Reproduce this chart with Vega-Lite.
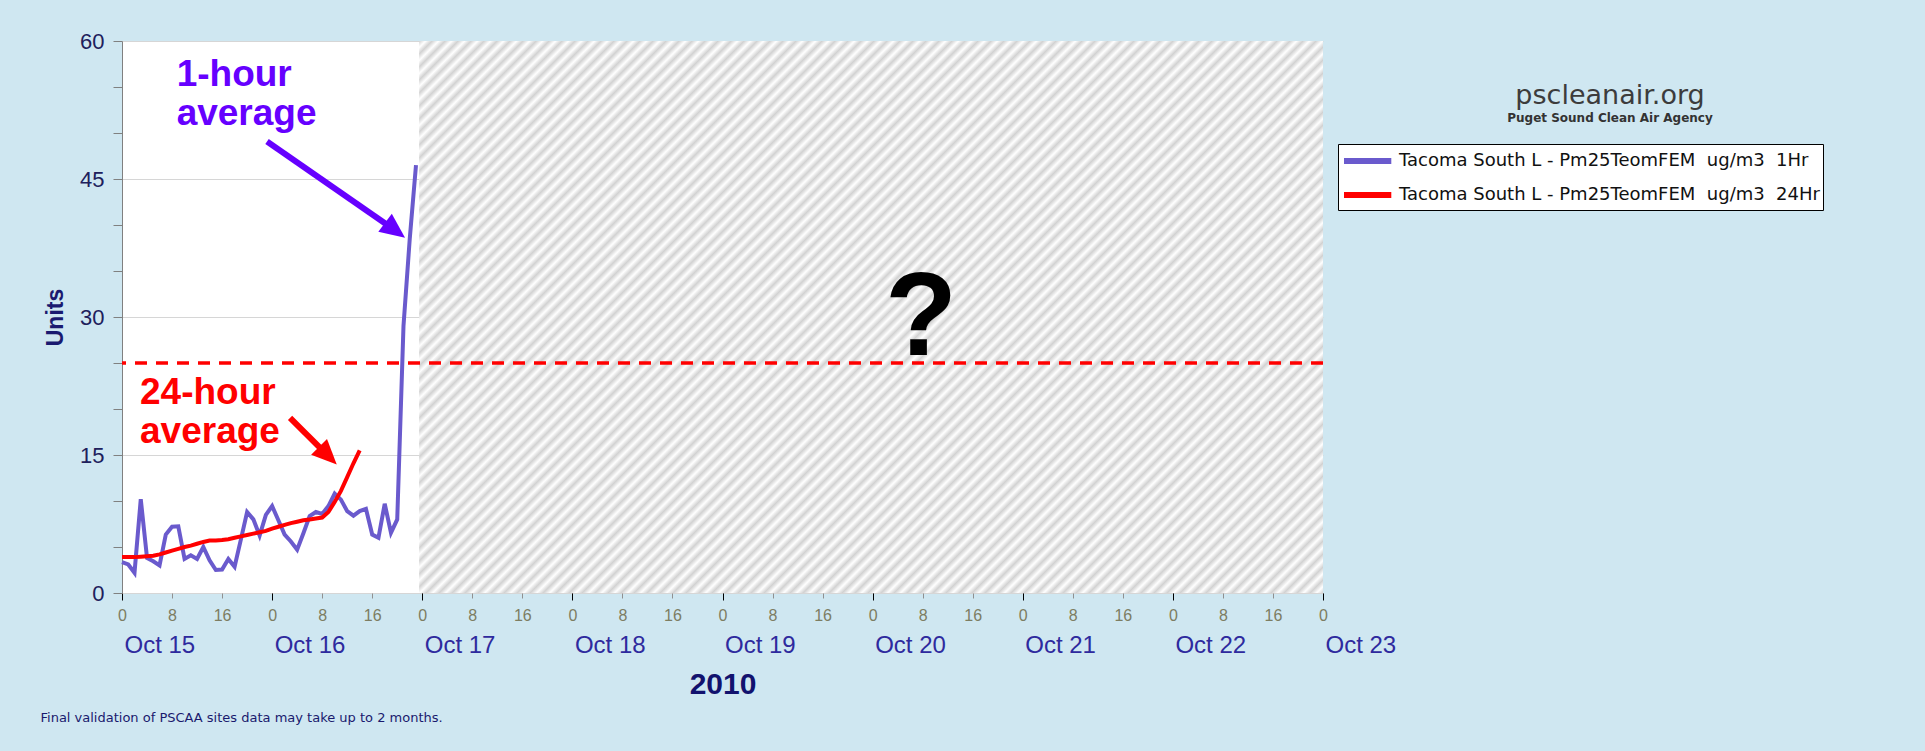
{
"$schema": "https://vega.github.io/schema/vega-lite/v6.json",
"width": 1201, "height": 552,
"autosize": {"type": "none"},
"padding": {"left": 122, "top": 41, "right": 602, "bottom": 158},
"background": "#cfe7f1",
"config": {"view": {"fill": "#ffffff", "stroke": null}},
"title": {"text": "pscleanair.org", "subtitle": "Puget Sound Clean Air Agency", "orient": "top", "anchor": "end", "frame": "group", "align": "center", "dx": 287, "dy": 95, "offset": 0, "font": "DejaVu Sans", "fontSize": 27, "fontWeight": "normal", "color": "#3c3c3c", "subtitleFont": "DejaVu Sans", "subtitleFontSize": 12, "subtitleFontWeight": "bold", "subtitleColor": "#333333", "subtitlePadding": 3},
"datasets": {
"hourly1": [
{"t":"2010-10-15T00:00","val":3.35},{"t":"2010-10-15T01:00","val":3.1},{"t":"2010-10-15T02:00","val":2.2},{"t":"2010-10-15T03:00","val":10.2},{"t":"2010-10-15T04:00","val":3.8},{"t":"2010-10-15T05:00","val":3.45},{"t":"2010-10-15T06:00","val":3.0},{"t":"2010-10-15T07:00","val":6.35},{"t":"2010-10-15T08:00","val":7.2},{"t":"2010-10-15T09:00","val":7.25},{"t":"2010-10-15T10:00","val":3.7},{"t":"2010-10-15T11:00","val":4.1},{"t":"2010-10-15T12:00","val":3.7},{"t":"2010-10-15T13:00","val":5.0},{"t":"2010-10-15T14:00","val":3.55},{"t":"2010-10-15T15:00","val":2.5},{"t":"2010-10-15T16:00","val":2.55},{"t":"2010-10-15T17:00","val":3.7},{"t":"2010-10-15T18:00","val":2.85},{"t":"2010-10-15T19:00","val":5.8},{"t":"2010-10-15T20:00","val":8.8},{"t":"2010-10-15T21:00","val":8.0},{"t":"2010-10-15T22:00","val":6.25},{"t":"2010-10-15T23:00","val":8.5},
{"t":"2010-10-16T00:00","val":9.45},{"t":"2010-10-16T01:00","val":7.9},{"t":"2010-10-16T02:00","val":6.35},{"t":"2010-10-16T03:00","val":5.6},{"t":"2010-10-16T04:00","val":4.7},{"t":"2010-10-16T05:00","val":6.5},{"t":"2010-10-16T06:00","val":8.35},{"t":"2010-10-16T07:00","val":8.8},{"t":"2010-10-16T08:00","val":8.6},{"t":"2010-10-16T09:00","val":9.45},{"t":"2010-10-16T10:00","val":10.8},{"t":"2010-10-16T11:00","val":10.15},{"t":"2010-10-16T12:00","val":8.9},{"t":"2010-10-16T13:00","val":8.4},{"t":"2010-10-16T14:00","val":8.9},{"t":"2010-10-16T15:00","val":9.15},{"t":"2010-10-16T16:00","val":6.35},{"t":"2010-10-16T17:00","val":6.0},{"t":"2010-10-16T18:00","val":9.7},{"t":"2010-10-16T19:00","val":6.55},{"t":"2010-10-16T20:00","val":8.0},{"t":"2010-10-16T21:00","val":29.0},{"t":"2010-10-16T22:00","val":38.5},{"t":"2010-10-16T23:00","val":46.5}
],
"hourly24": [
{"t":"2010-10-15T00:00","val":3.9},{"t":"2010-10-15T01:00","val":3.9},{"t":"2010-10-15T02:00","val":3.9},{"t":"2010-10-15T03:00","val":3.95},{"t":"2010-10-15T04:00","val":4.0},{"t":"2010-10-15T05:00","val":4.05},{"t":"2010-10-15T06:00","val":4.2},{"t":"2010-10-15T07:00","val":4.4},{"t":"2010-10-15T08:00","val":4.6},{"t":"2010-10-15T09:00","val":4.8},{"t":"2010-10-15T10:00","val":5.0},{"t":"2010-10-15T11:00","val":5.15},{"t":"2010-10-15T12:00","val":5.35},{"t":"2010-10-15T13:00","val":5.55},{"t":"2010-10-15T14:00","val":5.7},{"t":"2010-10-15T15:00","val":5.7},{"t":"2010-10-15T16:00","val":5.75},{"t":"2010-10-15T17:00","val":5.85},{"t":"2010-10-15T18:00","val":6.0},{"t":"2010-10-15T19:00","val":6.15},{"t":"2010-10-15T20:00","val":6.3},{"t":"2010-10-15T21:00","val":6.45},{"t":"2010-10-15T22:00","val":6.6},{"t":"2010-10-15T23:00","val":6.75},
{"t":"2010-10-16T00:00","val":7.0},{"t":"2010-10-16T01:00","val":7.2},{"t":"2010-10-16T02:00","val":7.4},{"t":"2010-10-16T03:00","val":7.6},{"t":"2010-10-16T04:00","val":7.75},{"t":"2010-10-16T05:00","val":7.9},{"t":"2010-10-16T06:00","val":8.0},{"t":"2010-10-16T07:00","val":8.1},{"t":"2010-10-16T08:00","val":8.2},{"t":"2010-10-16T09:00","val":8.8},{"t":"2010-10-16T10:00","val":9.9},{"t":"2010-10-16T11:00","val":11.1},{"t":"2010-10-16T12:00","val":12.6},{"t":"2010-10-16T13:00","val":14.1},{"t":"2010-10-16T14:00","val":15.5}
],
"nodata": [{"start":"2010-10-16T23:30","end":"2010-10-23T00:00"}],
"limit": [{"level": 25}]
},
"layer": [
{"data": {"name": "hourly1"},
 "mark": {"type": "line", "strokeWidth": 4},
 "encoding": {
  "x": {"field": "t", "type": "temporal",
        "scale": {"domain": [{"year": 2010, "month": 10, "date": 15}, {"year": 2010, "month": 10, "date": 23}]},
        "axis": {"orient": "bottom", "format": "%-H", "domain": false, "grid": false,
                 "values": [{"year":2010,"month":10,"date":15,"hours":0},{"year":2010,"month":10,"date":15,"hours":8},{"year":2010,"month":10,"date":15,"hours":16},
                            {"year":2010,"month":10,"date":16,"hours":0},{"year":2010,"month":10,"date":16,"hours":8},{"year":2010,"month":10,"date":16,"hours":16},
                            {"year":2010,"month":10,"date":17,"hours":0},{"year":2010,"month":10,"date":17,"hours":8},{"year":2010,"month":10,"date":17,"hours":16},
                            {"year":2010,"month":10,"date":18,"hours":0},{"year":2010,"month":10,"date":18,"hours":8},{"year":2010,"month":10,"date":18,"hours":16},
                            {"year":2010,"month":10,"date":19,"hours":0},{"year":2010,"month":10,"date":19,"hours":8},{"year":2010,"month":10,"date":19,"hours":16},
                            {"year":2010,"month":10,"date":20,"hours":0},{"year":2010,"month":10,"date":20,"hours":8},{"year":2010,"month":10,"date":20,"hours":16},
                            {"year":2010,"month":10,"date":21,"hours":0},{"year":2010,"month":10,"date":21,"hours":8},{"year":2010,"month":10,"date":21,"hours":16},
                            {"year":2010,"month":10,"date":22,"hours":0},{"year":2010,"month":10,"date":22,"hours":8},{"year":2010,"month":10,"date":22,"hours":16},
                            {"year":2010,"month":10,"date":23,"hours":0}],
                 "tickColor": "#909090", "tickSize": 5, "labelFont": "Liberation Sans", "labelFontSize": 16, "labelColor": "#7d7d62",
                 "labelPadding": 9, "labelFlush": false, "labelOverlap": false, "labelBound": false,
                 "title": "Final validation of PSCAA sites data may take up to 2 months.", "titleFont": "DejaVu Sans", "titleFontSize": 13,
                 "titleFontWeight": "normal", "titleColor": "#1a1a6e", "titleAlign": "left", "titleAnchor": "start", "titleX": -82, "titleY": 124, "titleBaseline": "middle"}},
  "y": {"field": "val", "type": "quantitative", "scale": {"domain": [0, 60], "nice": false},
        "axis": {"values": [0,5,10,15,20,25,30,35,40,45,50,55,60], "labelExpr": "datum.value % 15 === 0 ? datum.label : ''",
                 "grid": true, "gridColor": "#d6d6d6",
                 "gridOpacity": {"condition": {"test": "datum.value % 15 === 0", "value": 1}, "value": 0},
                 "tickSize": 9, "tickColor": "#808080", "domainColor": "#808080",
                 "labelFont": "Liberation Sans", "labelFontSize": 22, "labelColor": "#20205c", "labelPadding": 9,
                 "title": "Units", "titleFont": "Liberation Sans", "titleFontSize": 23, "titleFontWeight": "bold", "titleColor": "#1a1a70", "titlePadding": 12}},
  "color": {"datum": "Tacoma South L - Pm25TeomFEM\u00a0 ug/m3\u00a0 1Hr", "type": "nominal",
            "scale": {"domain": ["Tacoma South L - Pm25TeomFEM\u00a0 ug/m3\u00a0 1Hr", "Tacoma South L - Pm25TeomFEM\u00a0 ug/m3\u00a0 24Hr"], "range": ["#6A5ACD", "#FF0000"]},
            "legend": {"orient": "none", "legendX": 1216, "legendY": 103, "title": null, "strokeColor": "#000000", "fillColor": "#ffffff", "padding": 3,
                       "symbolType": "M-1,0H3.3", "symbolSize": 484, "symbolStrokeWidth": 6, "labelFont": "DejaVu Sans", "labelFontSize": 18,
                       "labelColor": "#111111", "labelOffset": 30, "rowPadding": 8, "labelLimit": 700}}
 }},
{"data": {"name": "hourly24"},
 "mark": {"type": "line", "strokeWidth": 4},
 "encoding": {
  "x": {"field": "t", "type": "temporal", "axis": null},
  "y": {"field": "val", "type": "quantitative"},
  "color": {"datum": "Tacoma South L - Pm25TeomFEM\u00a0 ug/m3\u00a0 24Hr", "type": "nominal"}
 }},
{"data": {"name": "nodata"},
 "mark": {"type": "rect", "fill": {"gradient": "linear", "x1": 0, "y1": 0, "x2": 1.1732, "y2": 0.7164, "stops": [
{"offset":0,"color":"#d2d2d2"},{"offset":0.0045,"color":"#fff"},{"offset":0.0089,"color":"#d2d2d2"},{"offset":0.0134,"color":"#fff"},{"offset":0.0179,"color":"#d2d2d2"},{"offset":0.0223,"color":"#fff"},{"offset":0.0268,"color":"#d2d2d2"},{"offset":0.0313,"color":"#fff"},{"offset":0.0357,"color":"#d2d2d2"},{"offset":0.0402,"color":"#fff"},{"offset":0.0446,"color":"#d2d2d2"},{"offset":0.0491,"color":"#fff"},{"offset":0.0536,"color":"#d2d2d2"},{"offset":0.058,"color":"#fff"},{"offset":0.0625,"color":"#d2d2d2"},{"offset":0.067,"color":"#fff"},{"offset":0.0714,"color":"#d2d2d2"},{"offset":0.0759,"color":"#fff"},{"offset":0.0804,"color":"#d2d2d2"},{"offset":0.0848,"color":"#fff"},
{"offset":0.0893,"color":"#d2d2d2"},{"offset":0.0938,"color":"#fff"},{"offset":0.0982,"color":"#d2d2d2"},{"offset":0.1027,"color":"#fff"},{"offset":0.1071,"color":"#d2d2d2"},{"offset":0.1116,"color":"#fff"},{"offset":0.1161,"color":"#d2d2d2"},{"offset":0.1205,"color":"#fff"},{"offset":0.125,"color":"#d2d2d2"},{"offset":0.1295,"color":"#fff"},{"offset":0.1339,"color":"#d2d2d2"},{"offset":0.1384,"color":"#fff"},{"offset":0.1429,"color":"#d2d2d2"},{"offset":0.1473,"color":"#fff"},{"offset":0.1518,"color":"#d2d2d2"},{"offset":0.1563,"color":"#fff"},{"offset":0.1607,"color":"#d2d2d2"},{"offset":0.1652,"color":"#fff"},{"offset":0.1696,"color":"#d2d2d2"},{"offset":0.1741,"color":"#fff"},
{"offset":0.1786,"color":"#d2d2d2"},{"offset":0.183,"color":"#fff"},{"offset":0.1875,"color":"#d2d2d2"},{"offset":0.192,"color":"#fff"},{"offset":0.1964,"color":"#d2d2d2"},{"offset":0.2009,"color":"#fff"},{"offset":0.2054,"color":"#d2d2d2"},{"offset":0.2098,"color":"#fff"},{"offset":0.2143,"color":"#d2d2d2"},{"offset":0.2188,"color":"#fff"},{"offset":0.2232,"color":"#d2d2d2"},{"offset":0.2277,"color":"#fff"},{"offset":0.2321,"color":"#d2d2d2"},{"offset":0.2366,"color":"#fff"},{"offset":0.2411,"color":"#d2d2d2"},{"offset":0.2455,"color":"#fff"},{"offset":0.25,"color":"#d2d2d2"},{"offset":0.2545,"color":"#fff"},{"offset":0.2589,"color":"#d2d2d2"},{"offset":0.2634,"color":"#fff"},
{"offset":0.2679,"color":"#d2d2d2"},{"offset":0.2723,"color":"#fff"},{"offset":0.2768,"color":"#d2d2d2"},{"offset":0.2813,"color":"#fff"},{"offset":0.2857,"color":"#d2d2d2"},{"offset":0.2902,"color":"#fff"},{"offset":0.2946,"color":"#d2d2d2"},{"offset":0.2991,"color":"#fff"},{"offset":0.3036,"color":"#d2d2d2"},{"offset":0.308,"color":"#fff"},{"offset":0.3125,"color":"#d2d2d2"},{"offset":0.317,"color":"#fff"},{"offset":0.3214,"color":"#d2d2d2"},{"offset":0.3259,"color":"#fff"},{"offset":0.3304,"color":"#d2d2d2"},{"offset":0.3348,"color":"#fff"},{"offset":0.3393,"color":"#d2d2d2"},{"offset":0.3438,"color":"#fff"},{"offset":0.3482,"color":"#d2d2d2"},{"offset":0.3527,"color":"#fff"},
{"offset":0.3571,"color":"#d2d2d2"},{"offset":0.3616,"color":"#fff"},{"offset":0.3661,"color":"#d2d2d2"},{"offset":0.3705,"color":"#fff"},{"offset":0.375,"color":"#d2d2d2"},{"offset":0.3795,"color":"#fff"},{"offset":0.3839,"color":"#d2d2d2"},{"offset":0.3884,"color":"#fff"},{"offset":0.3929,"color":"#d2d2d2"},{"offset":0.3973,"color":"#fff"},{"offset":0.4018,"color":"#d2d2d2"},{"offset":0.4063,"color":"#fff"},{"offset":0.4107,"color":"#d2d2d2"},{"offset":0.4152,"color":"#fff"},{"offset":0.4196,"color":"#d2d2d2"},{"offset":0.4241,"color":"#fff"},{"offset":0.4286,"color":"#d2d2d2"},{"offset":0.433,"color":"#fff"},{"offset":0.4375,"color":"#d2d2d2"},{"offset":0.442,"color":"#fff"},
{"offset":0.4464,"color":"#d2d2d2"},{"offset":0.4509,"color":"#fff"},{"offset":0.4554,"color":"#d2d2d2"},{"offset":0.4598,"color":"#fff"},{"offset":0.4643,"color":"#d2d2d2"},{"offset":0.4688,"color":"#fff"},{"offset":0.4732,"color":"#d2d2d2"},{"offset":0.4777,"color":"#fff"},{"offset":0.4821,"color":"#d2d2d2"},{"offset":0.4866,"color":"#fff"},{"offset":0.4911,"color":"#d2d2d2"},{"offset":0.4955,"color":"#fff"},{"offset":0.5,"color":"#d2d2d2"},{"offset":0.5045,"color":"#fff"},{"offset":0.5089,"color":"#d2d2d2"},{"offset":0.5134,"color":"#fff"},{"offset":0.5179,"color":"#d2d2d2"},{"offset":0.5223,"color":"#fff"},{"offset":0.5268,"color":"#d2d2d2"},{"offset":0.5313,"color":"#fff"},
{"offset":0.5357,"color":"#d2d2d2"},{"offset":0.5402,"color":"#fff"},{"offset":0.5446,"color":"#d2d2d2"},{"offset":0.5491,"color":"#fff"},{"offset":0.5536,"color":"#d2d2d2"},{"offset":0.558,"color":"#fff"},{"offset":0.5625,"color":"#d2d2d2"},{"offset":0.567,"color":"#fff"},{"offset":0.5714,"color":"#d2d2d2"},{"offset":0.5759,"color":"#fff"},{"offset":0.5804,"color":"#d2d2d2"},{"offset":0.5848,"color":"#fff"},{"offset":0.5893,"color":"#d2d2d2"},{"offset":0.5938,"color":"#fff"},{"offset":0.5982,"color":"#d2d2d2"},{"offset":0.6027,"color":"#fff"},{"offset":0.6071,"color":"#d2d2d2"},{"offset":0.6116,"color":"#fff"},{"offset":0.6161,"color":"#d2d2d2"},{"offset":0.6205,"color":"#fff"},
{"offset":0.625,"color":"#d2d2d2"},{"offset":0.6295,"color":"#fff"},{"offset":0.6339,"color":"#d2d2d2"},{"offset":0.6384,"color":"#fff"},{"offset":0.6429,"color":"#d2d2d2"},{"offset":0.6473,"color":"#fff"},{"offset":0.6518,"color":"#d2d2d2"},{"offset":0.6563,"color":"#fff"},{"offset":0.6607,"color":"#d2d2d2"},{"offset":0.6652,"color":"#fff"},{"offset":0.6696,"color":"#d2d2d2"},{"offset":0.6741,"color":"#fff"},{"offset":0.6786,"color":"#d2d2d2"},{"offset":0.683,"color":"#fff"},{"offset":0.6875,"color":"#d2d2d2"},{"offset":0.692,"color":"#fff"},{"offset":0.6964,"color":"#d2d2d2"},{"offset":0.7009,"color":"#fff"},{"offset":0.7054,"color":"#d2d2d2"},{"offset":0.7098,"color":"#fff"},
{"offset":0.7143,"color":"#d2d2d2"},{"offset":0.7188,"color":"#fff"},{"offset":0.7232,"color":"#d2d2d2"},{"offset":0.7277,"color":"#fff"},{"offset":0.7321,"color":"#d2d2d2"},{"offset":0.7366,"color":"#fff"},{"offset":0.7411,"color":"#d2d2d2"},{"offset":0.7455,"color":"#fff"},{"offset":0.75,"color":"#d2d2d2"},{"offset":0.7545,"color":"#fff"},{"offset":0.7589,"color":"#d2d2d2"},{"offset":0.7634,"color":"#fff"},{"offset":0.7679,"color":"#d2d2d2"},{"offset":0.7723,"color":"#fff"},{"offset":0.7768,"color":"#d2d2d2"},{"offset":0.7813,"color":"#fff"},{"offset":0.7857,"color":"#d2d2d2"},{"offset":0.7902,"color":"#fff"},{"offset":0.7946,"color":"#d2d2d2"},{"offset":0.7991,"color":"#fff"},
{"offset":0.8036,"color":"#d2d2d2"},{"offset":0.808,"color":"#fff"},{"offset":0.8125,"color":"#d2d2d2"},{"offset":0.817,"color":"#fff"},{"offset":0.8214,"color":"#d2d2d2"},{"offset":0.8259,"color":"#fff"},{"offset":0.8304,"color":"#d2d2d2"},{"offset":0.8348,"color":"#fff"},{"offset":0.8393,"color":"#d2d2d2"},{"offset":0.8438,"color":"#fff"},{"offset":0.8482,"color":"#d2d2d2"},{"offset":0.8527,"color":"#fff"},{"offset":0.8571,"color":"#d2d2d2"},{"offset":0.8616,"color":"#fff"},{"offset":0.8661,"color":"#d2d2d2"},{"offset":0.8705,"color":"#fff"},{"offset":0.875,"color":"#d2d2d2"},{"offset":0.8795,"color":"#fff"},{"offset":0.8839,"color":"#d2d2d2"},{"offset":0.8884,"color":"#fff"},
{"offset":0.8929,"color":"#d2d2d2"},{"offset":0.8973,"color":"#fff"},{"offset":0.9018,"color":"#d2d2d2"},{"offset":0.9063,"color":"#fff"},{"offset":0.9107,"color":"#d2d2d2"},{"offset":0.9152,"color":"#fff"},{"offset":0.9196,"color":"#d2d2d2"},{"offset":0.9241,"color":"#fff"},{"offset":0.9286,"color":"#d2d2d2"},{"offset":0.933,"color":"#fff"},{"offset":0.9375,"color":"#d2d2d2"},{"offset":0.942,"color":"#fff"},{"offset":0.9464,"color":"#d2d2d2"},{"offset":0.9509,"color":"#fff"},{"offset":0.9554,"color":"#d2d2d2"},{"offset":0.9598,"color":"#fff"},{"offset":0.9643,"color":"#d2d2d2"},{"offset":0.9688,"color":"#fff"},{"offset":0.9732,"color":"#d2d2d2"},{"offset":0.9777,"color":"#fff"},
{"offset":0.9821,"color":"#d2d2d2"},{"offset":0.9866,"color":"#fff"},{"offset":0.9911,"color":"#d2d2d2"},{"offset":0.9955,"color":"#fff"},{"offset":1,"color":"#d2d2d2"}
 ]}},
 "encoding": {
  "x": {"field": "start", "type": "temporal",
        "axis": {"orient": "bottom", "format": "%b %-d", "domain": false, "grid": false,
                 "values": [{"year":2010,"month":10,"date":15},{"year":2010,"month":10,"date":16},{"year":2010,"month":10,"date":17},{"year":2010,"month":10,"date":18},{"year":2010,"month":10,"date":19},{"year":2010,"month":10,"date":20},{"year":2010,"month":10,"date":21},{"year":2010,"month":10,"date":22},{"year":2010,"month":10,"date":23}],
                 "tickColor": "#000000", "tickSize": 7, "labelAlign": "left", "labelBaseline": "top", "labelPadding": 33, "labelOffset": 2,
                 "labelFont": "Liberation Sans", "labelFontSize": 24, "labelColor": "#2e2a9e",
                 "labelFlush": false, "labelOverlap": false, "labelBound": false,
                 "title": "2010", "titleFont": "Liberation Sans", "titleFontSize": 30, "titleFontWeight": "bold", "titleColor": "#12126e", "titlePadding": 12}},
  "x2": {"field": "end"},
  "y": {"datum": 0, "type": "quantitative"},
  "y2": {"datum": 60}
 }},
{"data": {"name": "limit"},
 "mark": {"type": "rule", "color": "#FF0000", "strokeWidth": 3.5, "strokeDash": [12, 9]},
 "encoding": {"y": {"field": "level", "type": "quantitative"}}},
{"data": {"values": [{"t": "2010-10-15T08:44", "v": 55.16, "label": "1-hour\naverage"}]},
 "mark": {"type": "text", "font": "Liberation Sans", "fontSize": 37, "fontWeight": "bold", "color": "#6600ff", "align": "left", "baseline": "alphabetic", "lineBreak": "\n", "lineHeight": 39},
 "encoding": {"x": {"field": "t", "type": "temporal", "axis": null}, "y": {"field": "v", "type": "quantitative"}, "text": {"field": "label"}}},
{"data": {"values": [{"t": "2010-10-15T02:53", "v": 20.5, "label": "24-hour\naverage"}]},
 "mark": {"type": "text", "font": "Liberation Sans", "fontSize": 37, "fontWeight": "bold", "color": "#FF0000", "align": "left", "baseline": "alphabetic", "lineBreak": "\n", "lineHeight": 39},
 "encoding": {"x": {"field": "t", "type": "temporal", "axis": null}, "y": {"field": "v", "type": "quantitative"}, "text": {"field": "label"}}},
{"data": {"values": [{"t": "2010-10-20T07:44", "v": 25.9, "label": "?"}]},
 "mark": {"type": "text", "font": "Liberation Sans", "fontSize": 118, "fontWeight": "bold", "color": "#000000", "align": "center", "baseline": "alphabetic"},
 "encoding": {"x": {"field": "t", "type": "temporal", "axis": null}, "y": {"field": "v", "type": "quantitative"}, "text": {"field": "label"}}},
{"data": {"values": [{"t0": "2010-10-15T23:11", "v0": 49.08, "t1": "2010-10-16T19:39", "v1": 39.42}]},
 "mark": {"type": "rule", "strokeWidth": 6, "color": "#6600ff"},
 "encoding": {"x": {"field": "t0", "type": "temporal", "axis": null}, "y": {"field": "v0", "type": "quantitative"}, "x2": {"field": "t1"}, "y2": {"field": "v1"}}},
{"data": {"values": [{"t0": "2010-10-16T02:52", "v0": 19.04, "t1": "2010-10-16T08:55", "v1": 14.92}]},
 "mark": {"type": "rule", "strokeWidth": 6, "color": "#FF0000"},
 "encoding": {"x": {"field": "t0", "type": "temporal", "axis": null}, "y": {"field": "v0", "type": "quantitative"}, "x2": {"field": "t1"}, "y2": {"field": "v1"}}},
{"data": {"values": [{"t": "2010-10-16T19:39", "v": 39.42}]},
 "mark": {"type": "point", "shape": "M-1,-0.9L1,0L-1,0.9Z", "size": 625, "angle": 36.9, "filled": true, "color": "#6600ff", "opacity": 1},
 "encoding": {"x": {"field": "t", "type": "temporal", "axis": null}, "y": {"field": "v", "type": "quantitative"}}},
{"data": {"values": [{"t": "2010-10-16T08:55", "v": 14.92}]},
 "mark": {"type": "point", "shape": "M-1,-0.9L1,0L-1,0.9Z", "size": 625, "angle": 45, "filled": true, "color": "#FF0000", "opacity": 1},
 "encoding": {"x": {"field": "t", "type": "temporal", "axis": null}, "y": {"field": "v", "type": "quantitative"}}}
],
"resolve": {"axis": {"x": "independent"}}
}
